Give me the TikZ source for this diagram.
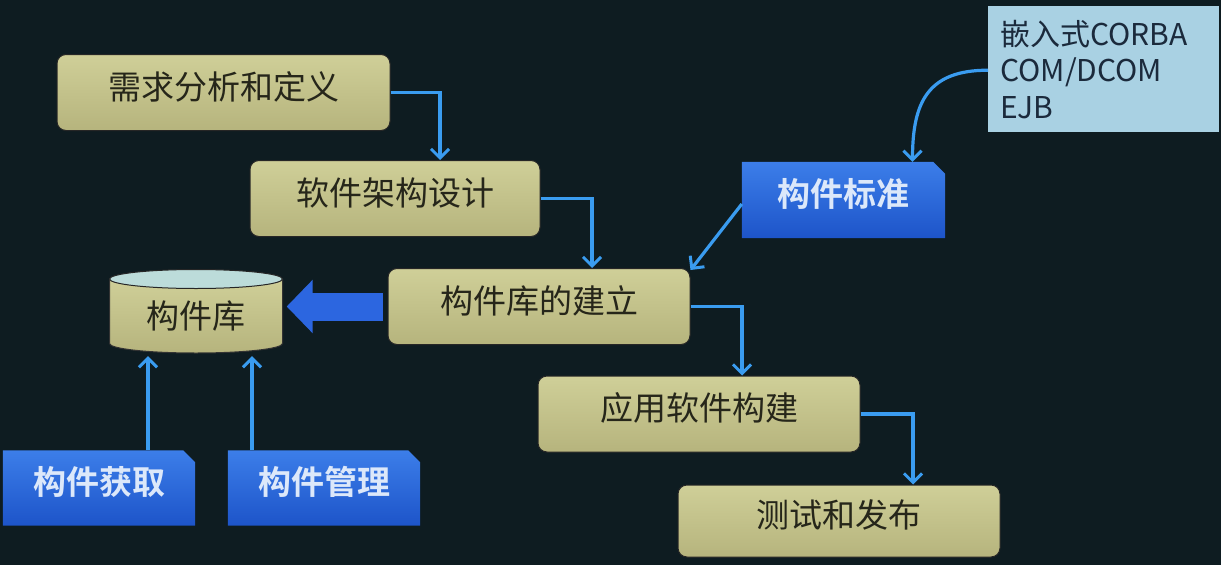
\documentclass[tikz,border=0pt]{standalone}
\usepackage{fontspec}
\setmainfont{Noto Sans CJK SC}[BoldFont={Noto Sans CJK SC Bold}]
\usetikzlibrary{arrows.meta,backgrounds,calc}
\definecolor{bgcol}{HTML}{0E1C21}
\definecolor{olivetop}{HTML}{CFCF98}
\definecolor{olivebot}{HTML}{B6B47D}
\definecolor{olivetext}{HTML}{26261A}
\definecolor{bluetop}{HTML}{3C7EE9}
\definecolor{bluebot}{HTML}{1D54C9}
\definecolor{bluetext}{HTML}{DCE8FA}
\definecolor{flowcol}{HTML}{3A9CF0}
\definecolor{bigarrow}{HTML}{2C66E0}
\definecolor{notefill}{HTML}{A9D1E3}
\definecolor{notetext}{HTML}{1B2A3C}
\definecolor{cyltop}{HTML}{BCDCDA}
\newcommand\chamferfill[1]{%
  \shade[top color=bluetop,bottom color=bluebot]
    (#1.south west) -- (#1.north west) -- ([xshift=-12pt]#1.north east)
    -- ([yshift=-12pt]#1.north east) -- (#1.south east) -- cycle;}
\tikzset{
  procbox/.style={rounded corners=9pt, draw=black!85, line width=1pt,
    top color=olivetop, bottom color=olivebot, minimum width=#1,
    minimum height=76pt, inner sep=0pt, text=olivetext,
    text height=24pt, text depth=11pt,
    font=\fontsize{33}{36}\selectfont},
  stdbox/.style={minimum width=#1, minimum height=75pt, inner sep=0pt,
    text=bluetext, text height=24pt, text depth=11pt,
    font=\fontsize{33}{36}\selectfont\bfseries},
  flow/.style={draw=flowcol, line width=3.2pt,
    -{Straight Barb[length=9pt,width=18pt,line width=3pt]}},
  bigflow/.style={draw=bigarrow, line width=28pt,
    -{Triangle[length=26pt,width=52pt]}},
}
\begin{document}
\begin{tikzpicture}[x=1pt,y=-1pt]
\useasboundingbox (0,0) rectangle (1221,565);

% process boxes
\node[procbox=333pt] (req)   at (223.5,92.5) {需求分析和定义};
\node[procbox=290pt] (arch)  at (395,198.5)  {软件架构设计};
\node[procbox=302pt] (build) at (539,306.5)  {构件库的建立};
\node[procbox=322pt] (app)   at (699,414)    {应用软件构建};
\node[procbox=322pt, minimum height=72pt] (test) at (839,521) {测试和发布};

% component library (cylinder)
\path[top color=olivetop, bottom color=olivebot, draw=black!80, line width=1pt]
  (109.5,279) -- (109.5,343.5) arc[start angle=180,end angle=360,x radius=86.5pt,y radius=9.5pt]
  -- (282.5,279) -- cycle;
\filldraw[fill=cyltop, draw=black!85, line width=1pt] (196,279) ellipse [x radius=86.5pt, y radius=9.5pt];
\node[minimum width=173pt, minimum height=84pt, inner sep=0pt, text=olivetext,
  text height=35pt, text depth=0pt,
  font=\fontsize{33}{36}\selectfont] (lib) at (196,311) {构件库};

% blue chamfered boxes
\node[stdbox=192pt] (get)  at (99,488)  {构件获取};
\node[stdbox=192pt] (mgmt) at (324,488) {构件管理};
\node[stdbox=203pt, minimum height=76pt] (std) at (843.5,200) {构件标准};
\begin{pgfonlayer}{background}
  \fill[bgcol] (0,0) rectangle (1221,565);
  \chamferfill{get}
  \chamferfill{mgmt}
  \chamferfill{std}
\end{pgfonlayer}

% note
\node[anchor=north west, fill=notefill, minimum width=230pt, minimum height=126pt,
  text width=207pt, inner xsep=12pt, inner ysep=6pt, align=left, text=notetext,
  font=\fontsize{30}{36.5}\selectfont] (note) at (988,6)
  {嵌入式CORBA\\COM/DCOM\\EJB};

% connectors
\draw[flow] (req.east)   -| ([xshift=45pt]arch.north);
\draw[flow] (arch.east)  -| ([xshift=53pt]build.north);
\draw[flow] (build.east) -| ([xshift=43pt]app.north);
\draw[flow] (app.east)   -| ([xshift=74pt]test.north);
\draw[flow] ([yshift=-4pt]std.west) -- ([yshift=-2pt]build.north east);
\draw[flow] ([yshift=-1pt]note.west) .. controls +(-60,0) and +(0,-60) .. ([xshift=69pt]std.north);
\draw[flow] ([xshift=49pt]get.north) -- ([xshift=49pt,yshift=-3pt]get.north |- lib.south);
\draw[flow] ([xshift=-72pt]mgmt.north) -- ([xshift=-72pt,yshift=-3pt]mgmt.north |- lib.south);
\draw[bigflow] ([xshift=-5pt]build.west) -- ([xshift=4pt]build.west -| lib.east);
\end{tikzpicture}
\end{document}
